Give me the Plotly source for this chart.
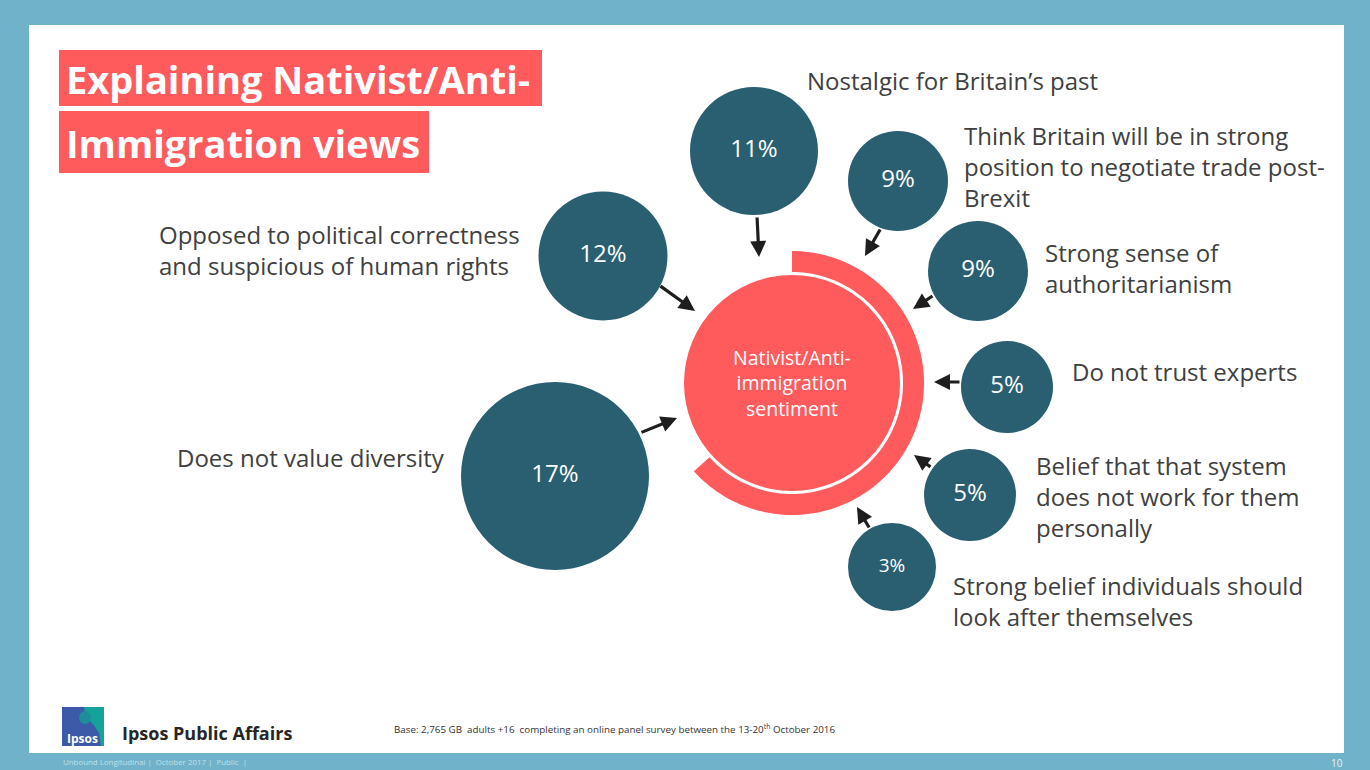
import numpy as np
import plotly.graph_objects as go

# ---- data -------------------------------------------------------------
drivers = [
    "Nostalgic for Britain’s past",
    "Think Britain will be in strong<br>position to negotiate trade post-<br>Brexit",
    "Opposed to political correctness<br>and suspicious of human rights",
    "Strong sense of<br>authoritarianism",
    "Do not trust experts",
    "Belief that that system<br>does not work for them<br>personally",
    "Strong belief individuals should<br>look after themselves",
    "Does not value diversity",
]
shares = [11, 9, 12, 9, 5, 5, 3, 17]
share_labels = [f"{v}%" for v in shares]
centre_label = "Nativist/Anti-<br>immigration<br>sentiment"

# ---- layout (page pixels) --------------------------------------------
W, H = 1370, 770
bub_x = [754, 898, 603, 978, 1007, 970, 892, 555]
bub_y = [151, 181, 256, 271, 387, 495, 567, 476]
bub_r = [64, 50, 64.5, 50, 46, 46, 44, 94]
bub_font = [24, 24, 24, 24, 24, 24, 19, 24]
# text block anchor (edge, vertical middle)
lab_x = [805, 962, 522, 1043, 1070, 1034, 951, 447]
lab_y = [80, 166, 250, 268, 371, 496, 601, 457]
lab_anchor = ["left", "left", "right", "left", "left", "left", "left", "right"]
# arrow tail -> tip
arr_tail = [(757, 216), (881, 228), (659, 285), (934, 295), (961, 382), (932, 468), (870, 529), (640, 433)]
arr_tip = [(759, 257), (865, 256), (695, 311), (913, 309), (934, 382), (914, 455), (857, 507), (677, 418)]

CORAL = "#ff5a5c"
TEAL = "#2a5f72"
FRAME = "#70b2c9"
TEXT = "#404040"
FONT = "Open Sans"

cx, cy, cr = 792, 383, 108
arc_in, arc_out = 111, 132
arc_start, arc_sweep = 90.0, 228.0  # degrees, clockwise from the top

fig = go.Figure()

# bubbles with their shares
fig.add_trace(go.Scatter(
    x=bub_x, y=bub_y, mode="markers+text",
    marker=dict(size=[2 * r for r in bub_r], color=TEAL, line=dict(width=0), opacity=1),
    text=share_labels, textposition="middle center",
    textfont=dict(family=FONT, size=bub_font, color="white"),
    hoverinfo="skip", showlegend=False,
))

# centre circle
fig.add_trace(go.Scatter(
    x=[cx], y=[cy], mode="markers",
    marker=dict(size=2 * cr, color=CORAL, line=dict(width=0)),
    hoverinfo="skip", showlegend=False,
))

shapes = []
# page frame: blue background with white slide
shapes.append(dict(type="rect", xref="x", yref="y", x0=0, x1=W, y0=0, y1=H,
                   fillcolor=FRAME, line=dict(width=0), layer="below"))
shapes.append(dict(type="rect", xref="x", yref="y", x0=29, x1=1344, y0=25, y1=753,
                   fillcolor="white", line=dict(width=0), layer="below"))

# outer ring segment around the centre circle
t = np.radians(arc_start - np.linspace(0, arc_sweep, 120))
ox, oy = cx + arc_out * np.cos(t), cy - arc_out * np.sin(t)
ix, iy = cx + arc_in * np.cos(t[::-1]), cy - arc_in * np.sin(t[::-1])
pts = list(zip(ox, oy)) + list(zip(ix, iy))
path = "M " + " L ".join(f"{px:.2f},{py:.2f}" for px, py in pts) + " Z"
shapes.append(dict(type="path", xref="x", yref="y", path=path,
                   fillcolor=CORAL, line=dict(width=0), layer="below"))

# title boxes
shapes.append(dict(type="rect", xref="x", yref="y", x0=59, x1=542, y0=50, y1=106,
                   fillcolor=CORAL, line=dict(width=0), layer="below"))
shapes.append(dict(type="rect", xref="x", yref="y", x0=59, x1=429, y0=111, y1=173,
                   fillcolor=CORAL, line=dict(width=0), layer="below"))

# Ipsos logo block
shapes.append(dict(type="rect", xref="x", yref="y", x0=62, x1=104, y0=707, y1=746,
                   fillcolor="#3d5aa9", line=dict(width=0), layer="above"))
shapes.append(dict(type="path", xref="x", yref="y",
                   path="M 84,707 L 104,707 L 104,746 L 101,746 L 99,733 L 93,724 L 86,718 Z",
                   fillcolor="#14a39b", line=dict(width=0), layer="above"))
shapes.append(dict(type="circle", xref="x", yref="y", x0=79, x1=91, y0=711, y1=724,
                   fillcolor="#1c8f9a", line=dict(width=0), layer="above"))

annotations = []
# driver labels
for txt, x, y, anc in zip(drivers, lab_x, lab_y, lab_anchor):
    annotations.append(dict(x=x, y=y, xref="x", yref="y", text=txt, showarrow=False,
                            xanchor=anc, yanchor="middle", align="left",
                            font=dict(family=FONT, size=24, color=TEXT)))
# arrows
for (tx, ty), (hx, hy) in zip(arr_tail, arr_tip):
    annotations.append(dict(x=hx, y=hy, ax=tx, ay=ty, xref="x", yref="y",
                            axref="x", ayref="y", text="", showarrow=True,
                            arrowhead=2, arrowsize=1.0, arrowwidth=3.2,
                            arrowcolor="#1e1e1e", standoff=0, startstandoff=0))
# centre label
annotations.append(dict(x=cx, y=cy, xref="x", yref="y", text=centre_label, showarrow=False,
                        xanchor="center", yanchor="middle", align="center",
                        font=dict(family=FONT, size=19.5, color="white")))
# titles
annotations.append(dict(x=64, y=79, xref="x", yref="y", text="<b>Explaining Nativist/Anti-</b>",
                        showarrow=False, xanchor="left", yanchor="middle",
                        font=dict(family=FONT, size=38, color="white")))
annotations.append(dict(x=64, y=143, xref="x", yref="y", text="<b>Immigration views</b>",
                        showarrow=False, xanchor="left", yanchor="middle",
                        font=dict(family=FONT, size=38, color="white")))
# footer
annotations.append(dict(x=65, y=738, xref="x", yref="y", text="<b>Ipsos</b>", showarrow=False,
                        xanchor="left", yanchor="middle",
                        font=dict(family=FONT, size=12, color="white")))
annotations.append(dict(x=120, y=733, xref="x", yref="y", text="<b>Ipsos Public Affairs</b>",
                        showarrow=False, xanchor="left", yanchor="middle",
                        font=dict(family=FONT, size=18, color="#262626")))
annotations.append(dict(x=392, y=729, xref="x", yref="y",
                        text="Base: 2,765 GB  adults +16  completing an online panel survey between the 13-20<sup>th</sup> October 2016",
                        showarrow=False, xanchor="left", yanchor="middle",
                        font=dict(family=FONT, size=9.8, color="#333333")))
annotations.append(dict(x=61, y=762, xref="x", yref="y",
                        text="Unbound Longitudinal |  October 2017 |  Public  |",
                        showarrow=False, xanchor="left", yanchor="middle",
                        font=dict(family=FONT, size=7.9, color="#bfe0ea")))
annotations.append(dict(x=1345, y=763, xref="x", yref="y", text="10",
                        showarrow=False, xanchor="right", yanchor="middle",
                        font=dict(family=FONT, size=10, color="#e8f4f8")))

fig.update_layout(
    width=W, height=H,
    margin=dict(l=0, r=0, t=0, b=0),
    paper_bgcolor=FRAME, plot_bgcolor=FRAME,
    xaxis=dict(range=[0, W], visible=False, fixedrange=True),
    yaxis=dict(range=[H, 0], visible=False, fixedrange=True),
    shapes=shapes, annotations=annotations,
    showlegend=False,
)

fig.write_html("out.html", config={"displayModeBar": False})
